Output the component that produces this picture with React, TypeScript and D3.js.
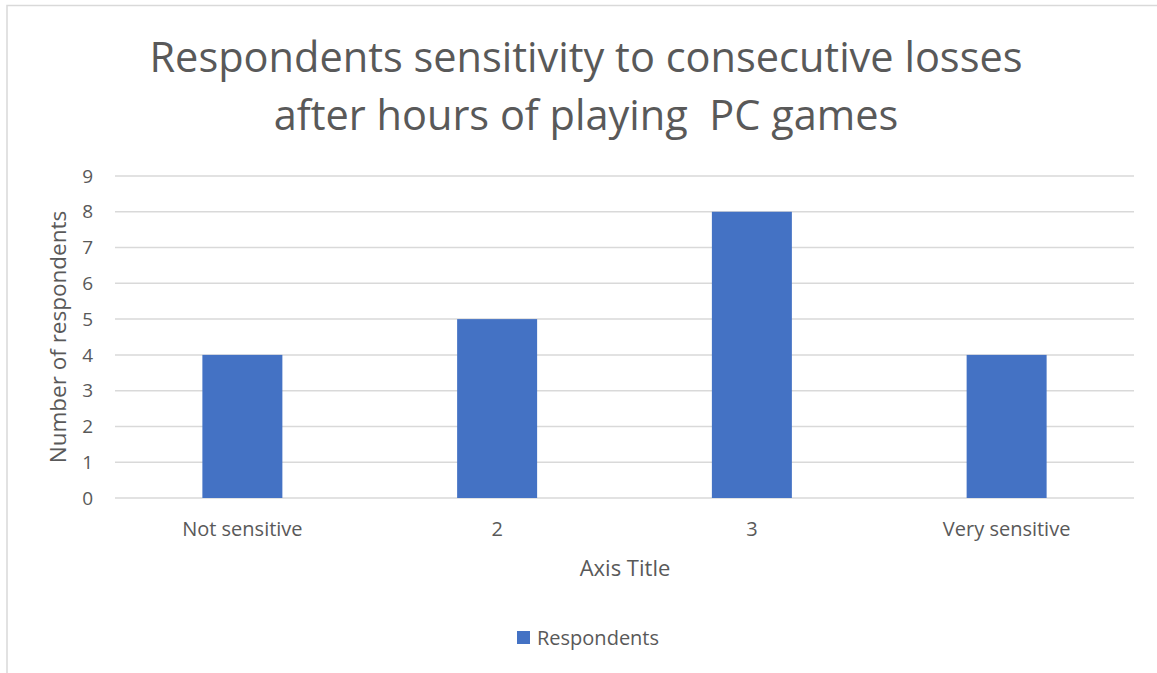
import React, { useEffect, useRef } from 'react';
import * as d3 from 'd3';

const categories = ['Not sensitive', '2', '3', 'Very sensitive'];
const respondents = [4, 5, 8, 4];
const yTicks = [0, 1, 2, 3, 4, 5, 6, 7, 8, 9];
const titleLines = ['Respondents sensitivity to consecutive losses', 'after hours of playing  PC games'];

const W = 1157;
const H = 673;
const FONT = "'Open Sans', 'Noto Sans', sans-serif";
const TEXT = '#595959';

const App = () => {
  const svgRef = useRef<SVGSVGElement | null>(null);

  useEffect(() => {
    if (!svgRef.current) return;
    const root = d3.select(svgRef.current);
    root.selectAll('*').remove();

    // chart frame
    root.append('rect')
      .attr('x', 7).attr('y', 5.5)
      .attr('width', W + 10).attr('height', H + 10)
      .attr('fill', 'white')
      .attr('stroke', '#d9d9d9').attr('stroke-width', 1.5);

    const plot = { left: 115, right: 1134, top: 176, bottom: 498 };

    const x = d3.scaleBand()
      .domain(categories)
      .range([plot.left, plot.right])
      .paddingInner(0.686)
      .paddingOuter(0.343);

    const y = d3.scaleLinear().domain([0, 9]).range([plot.bottom, plot.top]);

    // title
    root.append('text')
      .attr('text-anchor', 'middle')
      .attr('font-family', FONT)
      .attr('font-size', 41.5)
      .attr('fill', TEXT)
      .style('white-space', 'pre')
      .selectAll('tspan')
      .data(titleLines)
      .join('tspan')
      .attr('x', 586)
      .attr('y', (_, i) => 72 + i * 58)
      .text(d => d);

    // gridlines
    root.append('g')
      .selectAll('line')
      .data(yTicks)
      .join('line')
      .attr('x1', plot.left).attr('x2', plot.right)
      .attr('y1', d => y(d)).attr('y2', d => y(d))
      .attr('stroke', '#d9d9d9').attr('stroke-width', 1.5);

    // y tick labels
    root.append('g')
      .selectAll('text')
      .data(yTicks)
      .join('text')
      .attr('x', 93)
      .attr('y', d => y(d))
      .attr('dy', '0.35em')
      .attr('text-anchor', 'end')
      .attr('font-family', FONT)
      .attr('font-size', 19)
      .attr('fill', TEXT)
      .text(d => d);

    // bars
    root.append('g')
      .selectAll('rect')
      .data(respondents)
      .join('rect')
      .attr('x', (_, i) => x(categories[i]) as number)
      .attr('y', d => y(d))
      .attr('width', x.bandwidth())
      .attr('height', d => y(0) - y(d))
      .attr('fill', '#4472c4');

    // x labels
    root.append('g')
      .selectAll('text')
      .data(categories)
      .join('text')
      .attr('x', d => (x(d) as number) + x.bandwidth() / 2)
      .attr('y', 536)
      .attr('text-anchor', 'middle')
      .attr('font-family', FONT)
      .attr('font-size', 20)
      .attr('fill', TEXT)
      .text(d => d);

    // axis titles
    root.append('text')
      .attr('x', 625).attr('y', 576)
      .attr('text-anchor', 'middle')
      .attr('font-family', FONT)
      .attr('font-size', 22)
      .attr('fill', TEXT)
      .text('Axis Title');

    root.append('text')
      .attr('transform', 'translate(66,337) rotate(-90)')
      .attr('text-anchor', 'middle')
      .attr('font-family', FONT)
      .attr('font-size', 22.5)
      .attr('fill', TEXT)
      .text('Number of respondents');

    // legend
    const legend = root.append('g').attr('transform', 'translate(517,631)');
    legend.append('rect').attr('width', 13).attr('height', 13).attr('fill', '#4472c4');
    legend.append('text')
      .attr('x', 20).attr('y', 6.5).attr('dy', '0.35em')
      .attr('font-family', FONT)
      .attr('font-size', 20)
      .attr('fill', TEXT)
      .text('Respondents');
  }, []);

  return (
    <svg
      ref={svgRef}
      width={W}
      height={H}
      style={{ position: 'absolute', left: 0, top: 0, background: 'white' }}
    />
  );
};

export default App;
